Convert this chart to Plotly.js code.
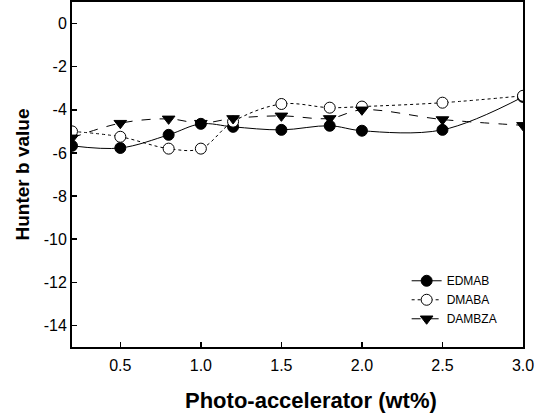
<!DOCTYPE html>
<html>
<head>
<meta charset="utf-8">
<script src="https://cdn.plot.ly/plotly-3.0.1.min.js"></script>
<style>html,body{margin:0;padding:0;background:#fff;}#chart{width:548px;height:420px;}</style>
</head>
<body>
<div id="chart"></div>
<script>
var xValues = [0.2, 0.5, 0.8, 1.0, 1.2, 1.5, 1.8, 2.0, 2.5, 3.0];
var edmab  = [-5.67, -5.77, -5.16, -4.65, -4.79, -4.93, -4.74, -4.97, -4.93, -3.40];
var dmaba  = [-5.00, -5.25, -5.80, -5.80, -4.55, -3.73, -3.90, -3.85, -3.67, -3.35];
var dambza = [-5.30, -4.62, -4.42, -4.62, -4.40, -4.28, -4.40, -4.00, -4.45, -4.72];
var seriesNames = ["EDMAB", "DMABA", "DAMBZA"];
var xTicks = [0.5, 1.0, 1.5, 2.0, 2.5, 3.0];
var xTickText = ["0.5", "1.0", "1.5", "2.0", "2.5", "3.0"];
var yTicks = [0, -2, -4, -6, -8, -10, -12, -14];
var yTickText = ["0", "-2", "-4", "-6", "-8", "-10", "-12", "-14"];
var xTitle = "Photo-accelerator (wt%)";
var yTitle = "Hunter b value";

var font = "Liberation Sans, Arial, Helvetica, sans-serif";

var traces = [
  {x: xValues, y: edmab, name: seriesNames[0], mode: "lines+markers",
   line: {color: "#000", width: 1, shape: "spline", dash: "solid"},
   marker: {symbol: "circle", size: 11, color: "#000", line: {color: "#000", width: 1}}},
  {x: xValues, y: dmaba, name: seriesNames[1], mode: "lines+markers",
   line: {color: "#000", width: 1, shape: "spline", dash: "dot"},
   marker: {symbol: "circle", size: 11, color: "#fff", line: {color: "#000", width: 1}}},
  {x: xValues, y: dambza, name: seriesNames[2], mode: "lines+markers",
   line: {color: "#000", width: 1, shape: "spline", dash: "dash"},
   marker: {symbol: "triangle-down", size: 11, color: "#000", line: {color: "#000", width: 1}}}
];

var layout = {
  width: 548, height: 420,
  margin: {l: 72, r: 25, t: 2, b: 73},
  paper_bgcolor: "#fff", plot_bgcolor: "#fff",
  font: {family: font, color: "#000"},
  showlegend: true,
  legend: {x: 0.742, y: 0.234, xanchor: "left", yanchor: "top",
           font: {family: font, size: 12, color: "#000"},
           bgcolor: "rgba(0,0,0,0)", borderwidth: 0, tracegroupgap: 0},
  xaxis: {range: [0.2, 3.0], tickvals: xTicks, ticktext: xTickText,
          ticks: "inside", ticklen: 5, tickwidth: 1.5, tickcolor: "#000",
          ticklabelstandoff: 3,
          showline: true, linecolor: "#000", linewidth: 2, mirror: true,
          showgrid: false, zeroline: false,
          tickfont: {family: font, size: 16, color: "#000"}},
  yaxis: {range: [-15, 1], tickvals: yTicks, ticktext: yTickText,
          ticks: "inside", ticklen: 5, tickwidth: 1.5, tickcolor: "#000",
          showline: true, linecolor: "#000", linewidth: 2, mirror: true,
          showgrid: false, zeroline: false,
          tickfont: {family: font, size: 16, color: "#000"},
          title: {text: "<b>" + yTitle + "</b>", font: {family: font, size: 19, color: "#000"}, standoff: 9}},
  annotations: [
    {text: "<b>" + xTitle + "</b>", xref: "paper", yref: "paper", x: 0.53, y: -0.156,
     xanchor: "center", yanchor: "middle", showarrow: false,
     font: {family: font, size: 22, color: "#000"}}
  ]
};

Plotly.newPlot("chart", traces, layout, {displayModeBar: false, staticPlot: true});
</script>
</body>
</html>
